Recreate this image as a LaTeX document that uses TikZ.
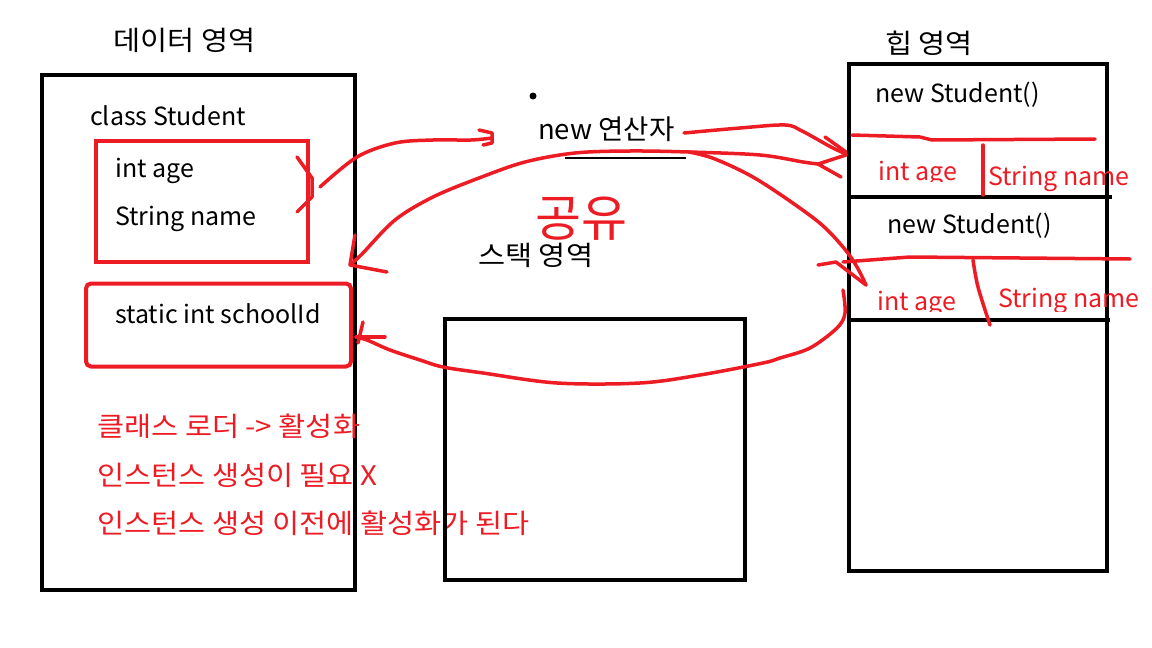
\documentclass[tikz,border=0pt]{standalone}
\usepackage{fontspec}
\setmainfont{Noto Sans CJK KR}
\newfontfamily\krwide[FakeStretch=1.09]{Noto Sans CJK KR}
\definecolor{pred}{RGB}{237,28,36}
\begin{document}
\begin{tikzpicture}[x=1pt,y=-1pt,
  lbl/.style={inner sep=0pt, anchor=base west, font=\fontsize{25}{30}\selectfont},
  klbl/.style={inner sep=0pt, anchor=base west, font=\krwide\fontsize{27}{32}\selectfont},
  rlbl/.style={lbl, text=pred},
  rklbl/.style={klbl, text=pred},
  box/.style={draw=black, line width=4.5pt},
  rbox/.style={draw=pred, line width=4pt},
  stroke/.style={draw=pred, line width=3.5pt, line cap=round, line join=round},
  hand/.style={stroke, smooth, tension=0.55}
]
\useasboundingbox[fill=white] (0,0) rectangle (1152,648);

% ---- titles ----
\node[klbl] (tdata) at (113,50.5) {데이터 영역};
\node[klbl] (theap) at (885,53.5) {힙 영역};
\node[klbl] (tstack) at (478,265) {스택 영역};
\node[inner sep=0pt, anchor=base west, font=\fontsize{27.5}{32}\selectfont] (tnew) at (538,139) {new 연산자};

% ---- data area ----
\draw[box] (42,75) rectangle (355,590);
\node[lbl] (cls) at (90,125) {class Student};
\draw[rbox] (96,140.5) rectangle (307.5,262);
\node[lbl] (age) at (115,177) {int age};
\node[lbl] (sname) at (115,225) {String name};
\draw[rbox, rounded corners=5pt] (86,283.5) rectangle (351,366.5);
\node[lbl] (sid) at (115,323) {static int schoolId};
\node[rklbl] (r1) at (97,436.5) {클래스 로더 -> 활성화};
\node[rklbl] (r2) at (97,485.5) {인스턴스 생성이 필요 X};
\node[rklbl] (r3) at (97,533.5) {인스턴스 생성 이전에 활성화가 된다};

% ---- stack area ----
\draw[box] (445,319) rectangle (745,580);

% ---- heap area ----
\draw[box] (849,64) rectangle (1107,571);
\draw[box] (849,197) -- (1112,197);
\draw[box] (849,320) -- (1110,320);
\node[lbl] (obj1) at (875,102) {new Student()};
\node[lbl] (obj2) at (887,233) {new Student()};
\draw[stroke] (852,135) -- (920,137) -- (932,140) -- (1095,139);
\draw[stroke] (983,145) -- (983,195);
\begin{scope}
  \clip (860,150) rectangle (980,181);
  \node[rlbl] (h1age) at (878,180) {int age};
\end{scope}
\node[rlbl] (h1name) at (988,185) {String name};
\draw[stroke] (843,262) -- (910,257) -- (1130,259);
\draw[hand] plot coordinates {(973,260) (978,287) (990,325)};
\begin{scope}
  \clip (860,270) rectangle (1152,311);
  \node[rlbl] (h2age) at (877,310) {int age};
  \node[rlbl] (h2name) at (998,307) {String name};
\end{scope}

% ---- marks ----
\fill (533,96) circle (3.5pt);
\draw[line width=1.5pt] (565,158) -- (686,158);
\node[text=pred, inner sep=0pt, font=\fontsize{50}{50}\selectfont] (share) at (581,219) {공유};

% ---- red bracket on the field box ----
\draw[stroke] (297,157) -- (312,178) -- (312,197) -- (297,212);

% ---- arrow: class -> new operator ----
\coordinate (a1s) at (320,187);
\coordinate (a1e) at (492,138);
\draw[hand] plot coordinates {(a1s) (357,157) (395,143) (433,140) (471,140) (a1e)};
\draw[stroke] (479,130) -- (492,133) -- (492,143) -- (483,145);

% ---- arrow: new operator -> heap object 1 ----
\coordinate (a2s) at (684,133);
\coordinate (a2e) at (846,154);
\draw[hand] plot coordinates {(a2s) (740,128) (785,125) (802,131) (831,147) (a2e)};
\draw[stroke] (825,137) -- (846,152);
\draw[stroke] (846,155) -- (818,164) -- (841,177);

% ---- big arc: data area <-> heap ----
\coordinate (arcL) at (350,265);
\coordinate (arcT) at (689,152);
\draw[hand] plot coordinates {(arcL) (362,254) (395,220) (433,197) (479,178) (525,162) (575,153) (630,151) (arcT) (760,155) (803,162) (818,164)};
\draw[stroke] (355,235) -- (arcL) -- (387,272);

% ---- branch: top -> heap object 2 ----
\coordinate (brE) at (866,285);
\draw[hand] plot coordinates {(arcT) (715,159) (758,180) (816,220) (843,247) (857,267) (brE)};
\draw[stroke] (818,265) -- (836,262) -- (brE);

% ---- bottom arc: heap object 2 -> static field ----
\coordinate (b1s) at (843,290);
\coordinate (b1e) at (356,337);
\draw[hand] plot coordinates {(b1s) (845,313) (837,328) (810,348) (780,358) (763,363) (700,375) (640,383) (557,383) (483,373) (443,367) (420,360) (390,350) (367,340) (b1e)};
\draw[stroke] (b1e) -- (385,337);
\draw[stroke] (363,322) -- (358,343);
\end{tikzpicture}
\end{document}
